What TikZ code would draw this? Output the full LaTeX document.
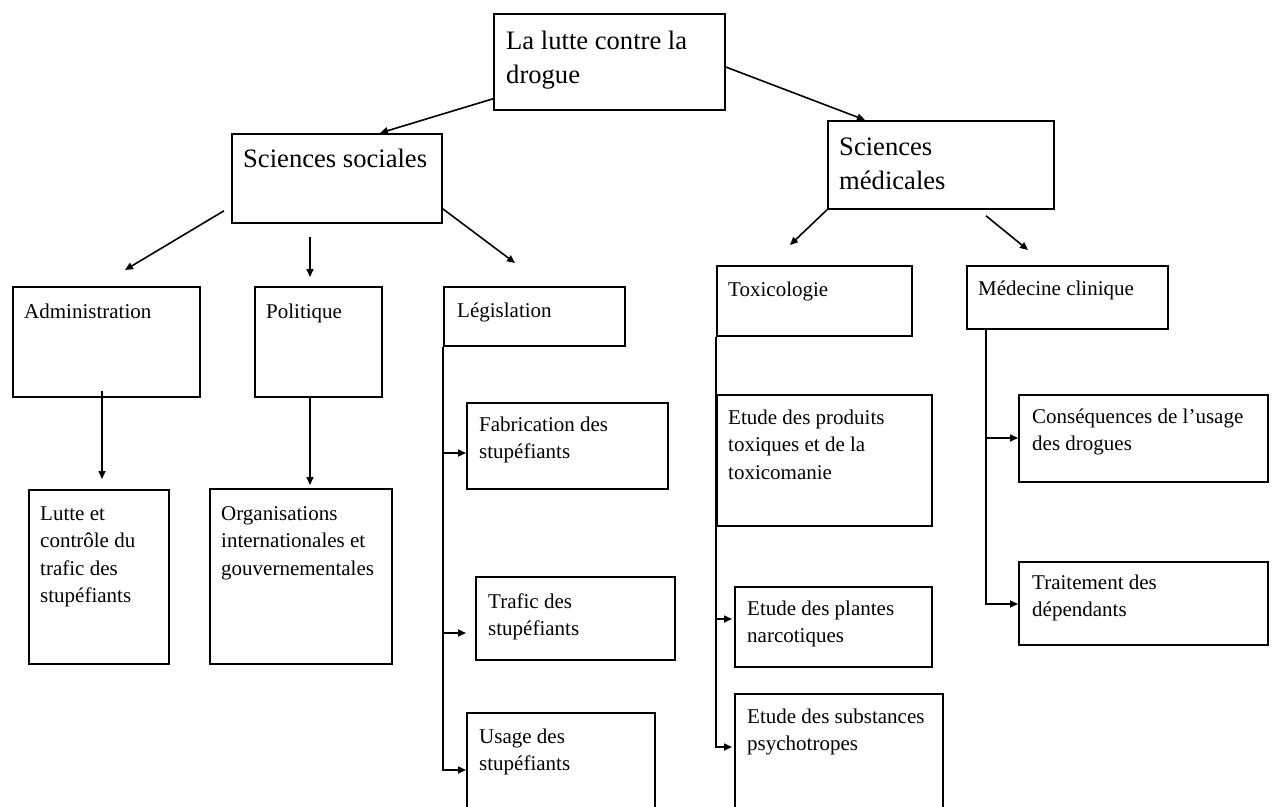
\documentclass[tikz,border=0pt]{standalone}
\usepackage{fontspec}
\setmainfont{Liberation Serif}
\usetikzlibrary{arrows.meta}
\newcommand\bloc[1]{\begin{tabular}[t]{@{}l@{}}#1\end{tabular}}
\tikzset{
  boite/.style={draw, line width=1.8pt, inner sep=0pt, anchor=north west},
  texte/.style={font=\fontsize{21}{27.5}\selectfont, inner sep=0pt, anchor=base west},
  titre/.style={texte, font=\fontsize{26.6}{34}\selectfont},
  fleche/.style={line width=1.6pt, -{Triangle[length=8pt,width=7pt]}}
}

\begin{document}
\begin{tikzpicture}[x=1pt, y=-1pt]
\useasboundingbox (0,0) rectangle (1273,806);
\clip (0,0) rectangle (1273,806);
% Top and second level
    \node[boite, minimum width=231pt, minimum height=96pt] (lutte) at (493,13) {};
    \node[titre] (lutte-t) at ([shift={(13,36)}]lutte.north west) {\bloc{La lutte contre la\\drogue}};
    \node[boite, minimum width=210pt, minimum height=89pt] (socio) at (231,133) {};
    \node[titre] (socio-t) at ([shift={(12,34)}]socio.north west) {\bloc{Sciences sociales}};
    \node[boite, minimum width=226pt, minimum height=88pt] (medic) at (827,120) {};
    \node[titre] (medic-t) at ([shift={(12,35)}]medic.north west) {\bloc{Sciences\\médicales}};
% Sciences sociales branch
    \node[boite, minimum width=187pt, minimum height=110pt] (admin) at (12,286) {};
    \node[texte] (admin-t) at ([shift={(12,32)}]admin.north west) {\bloc{Administration}};
    \node[boite, minimum width=127pt, minimum height=110pt] (polit) at (254,286) {};
    \node[texte] (polit-t) at ([shift={(12,32)}]polit.north west) {\bloc{Politique}};
    \node[boite, minimum width=181pt, minimum height=59pt] (legis) at (443,286) {};
    \node[texte] (legis-t) at ([shift={(14,31)}]legis.north west) {\bloc{Législation}};
    \node[boite, minimum width=140pt, minimum height=174pt] (controle) at (28,489) {};
    \node[texte] (controle-t) at ([shift={(12,31)}]controle.north west) {\bloc{Lutte et\\contrôle du\\trafic des\\stupéfiants}};
    \node[boite, minimum width=182pt, minimum height=175pt] (orga) at (209,488) {};
    \node[texte] (orga-t) at ([shift={(12,32)}]orga.north west) {\bloc{Organisations\\internationales et\\gouvernementales}};
    \node[boite, minimum width=201pt, minimum height=86pt] (fabric) at (466,402) {};
    \node[texte] (fabric-t) at ([shift={(13,29)}]fabric.north west) {\bloc{Fabrication des\\stupéfiants}};
    \node[boite, minimum width=199pt, minimum height=83pt] (trafic) at (475,576) {};
    \node[texte] (trafic-t) at ([shift={(13,32)}]trafic.north west) {\bloc{Trafic des\\stupéfiants}};
    \node[boite, minimum width=188pt, minimum height=120pt] (usage) at (466,712) {};
    \node[texte] (usage-t) at ([shift={(13,31)}]usage.north west) {\bloc{Usage des\\stupéfiants}};
% Sciences medicales branch
    \node[boite, minimum width=195pt, minimum height=70pt] (toxico) at (716,265) {};
    \node[texte] (toxico-t) at ([shift={(12,31)}]toxico.north west) {\bloc{Toxicologie}};
    \node[boite, minimum width=201pt, minimum height=63pt] (clinique) at (966,265) {};
    \node[texte] (clinique-t) at ([shift={(12,30)}]clinique.north west) {\bloc{Médecine clinique}};
    \node[boite, minimum width=215pt, minimum height=131pt] (produits) at (716,394) {};
    \node[texte] (produits-t) at ([shift={(12,30)}]produits.north west) {\bloc{Etude des produits\\toxiques et de la\\toxicomanie}};
    \node[boite, minimum width=197pt, minimum height=80pt] (plantes) at (734,586) {};
    \node[texte] (plantes-t) at ([shift={(13,29)}]plantes.north west) {\bloc{Etude des plantes\\narcotiques}};
    \node[boite, minimum width=208pt, minimum height=140pt] (psycho) at (734,693) {};
    \node[texte] (psycho-t) at ([shift={(13,30)}]psycho.north west) {\bloc{Etude des substances\\psychotropes}};
    \node[boite, minimum width=249pt, minimum height=87pt] (conseq) at (1018,394) {};
    \node[texte] (conseq-t) at ([shift={(14,29)}]conseq.north west) {\bloc{Conséquences de l’usage\\des drogues}};
    \node[boite, minimum width=249pt, minimum height=83pt] (traitem) at (1018,561) {};
    \node[texte] (traitem-t) at ([shift={(14,28)}]traitem.north west) {\bloc{Traitement des\\dépendants}};
% Arrows from the top
    \draw[fleche] ([shift={(0,-12)}]lutte.south west) -- ([shift={(149,0)}]socio.north west);
    \draw[fleche] ([shift={(0,54)}]lutte.north east) -- ([shift={(38,0)}]medic.north west);
    \draw[fleche] ([shift={(-7,-13)}]socio.south west) -- ([shift={(113,-16)}]admin.north west);
    \draw[fleche] ([shift={(79,13)}]socio.south west) -- ([shift={(56,-9)}]polit.north west);
    \draw[fleche] ([shift={(0,-15)}]socio.south east) -- ([shift={(72,-23)}]legis.north west);
    \draw[fleche] (medic.south west) -- ([shift={(74,-20)}]toxico.north west);
    \draw[fleche] ([shift={(159,6)}]medic.south west) -- ([shift={(62,-15)}]clinique.north west);
    \draw[fleche] ([shift={(90,-7)}]admin.south west) -- ([shift={(74,-10)}]controle.north west);
    \draw[fleche] ([shift={(56,0)}]polit.south west) -- ([shift={(101,-3)}]orga.north west);
% Entry points of the side branches
    \coordinate (fabric-in) at ([shift={(0,51)}]fabric.north west);
    \coordinate (trafic-in) at ([shift={(-9,57)}]trafic.north west);
    \coordinate (usage-in) at ([shift={(0,58)}]usage.north west);
    \coordinate (plantes-in) at ([shift={(-2,33)}]plantes.north west);
    \coordinate (psycho-in) at ([shift={(-2,54)}]psycho.north west);
    \coordinate (conseq-in) at ([shift={(0,44)}]conseq.north west);
    \coordinate (traitem-in) at ([shift={(0,43)}]traitem.north west);
% Side branches
    \draw[fleche] (legis.south west) |- (usage-in);
    \draw[fleche] (legis.south west |- fabric-in) -- (fabric-in);
    \draw[fleche] (legis.south west |- trafic-in) -- (trafic-in);
    \draw[fleche] (toxico.south west) |- (psycho-in);
    \draw[fleche] (toxico.south west |- plantes-in) -- (plantes-in);
    \draw[fleche] ([shift={(20,0)}]clinique.south west) |- (traitem-in);
    \draw[fleche] ([shift={(20,0)}]clinique.south west |- conseq-in) -- (conseq-in);
\end{tikzpicture}
\end{document}
